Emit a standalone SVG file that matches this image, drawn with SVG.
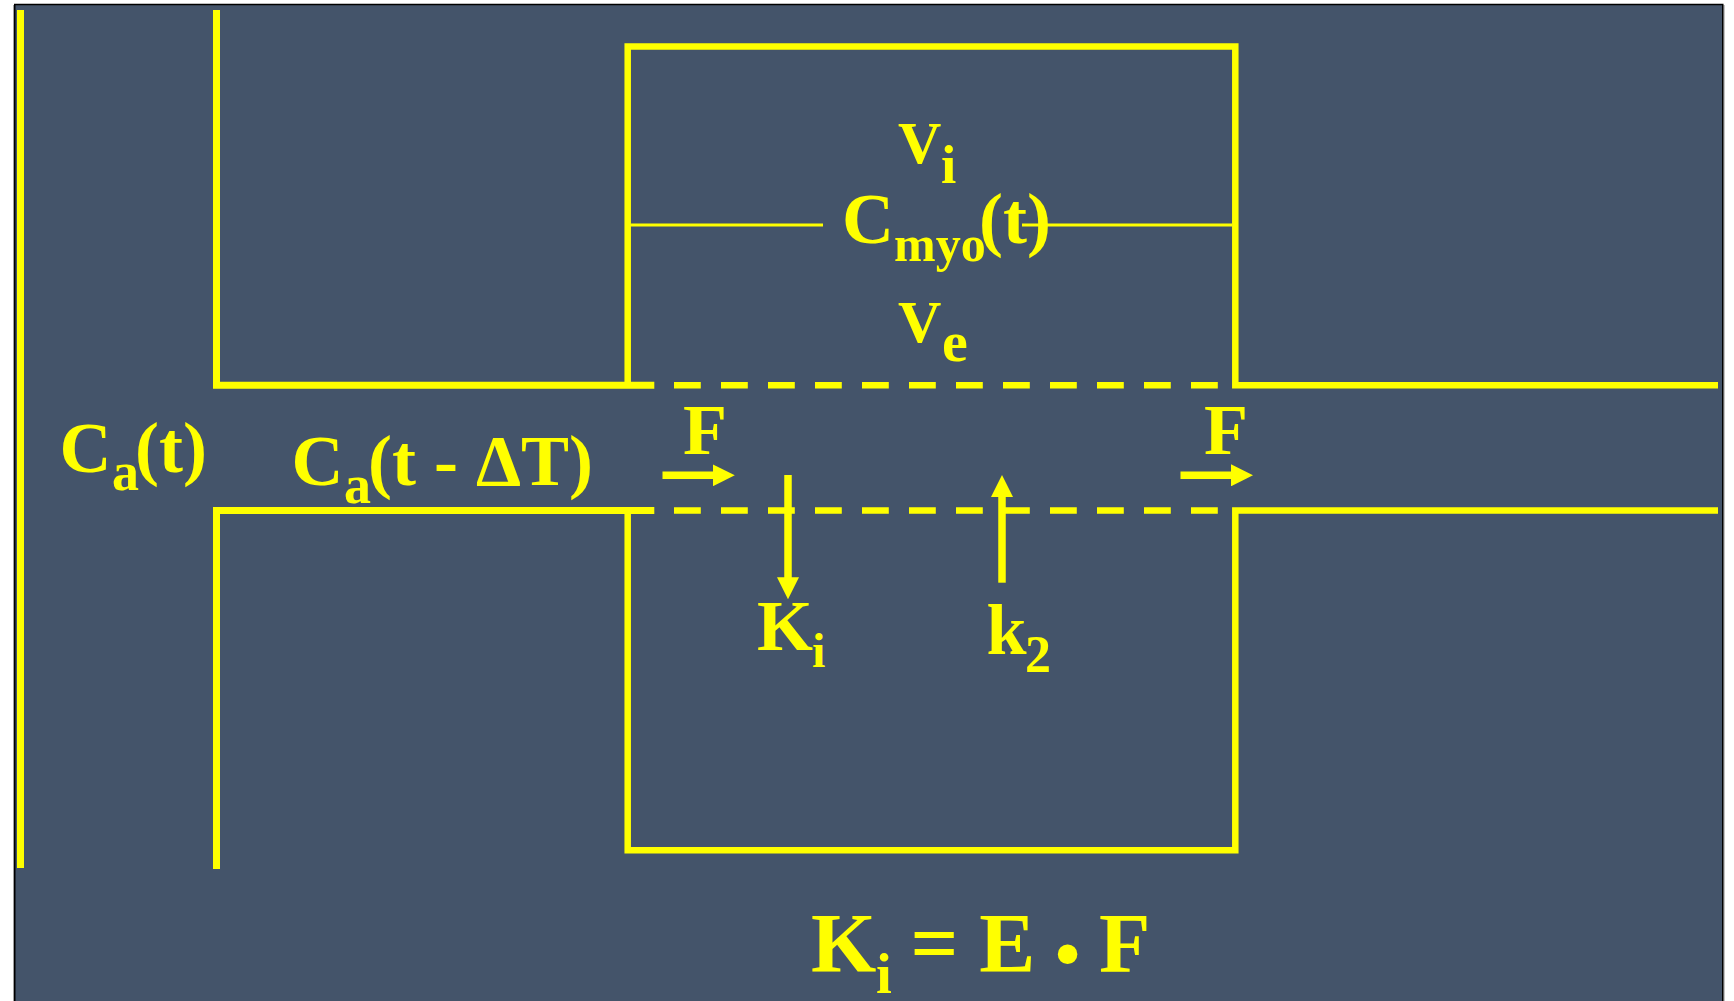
<svg xmlns="http://www.w3.org/2000/svg" width="1734" height="1001" viewBox="0 0 1734 1001">
<defs>
<style>
.wall{fill:none;stroke:#FFFF00;stroke-width:6.5;stroke-linecap:butt;stroke-linejoin:miter}
.dash{fill:none;stroke:#FFFF00;stroke-width:6.5;stroke-dasharray:26.8 20.2}
.thin{fill:none;stroke:#FFFF00;stroke-width:3}
.arr{fill:none;stroke:#FFFF00;stroke-width:7.5}
.t{font-family:"Liberation Serif","Times New Roman",serif;font-weight:bold;fill:#FFFF00}
</style>
<marker id="ah" viewBox="0 0 22 22" markerUnits="userSpaceOnUse" markerWidth="22" markerHeight="22" refX="2" refY="11" orient="auto">
<path d="M0,0 L22,11 L0,22 Z" fill="#FFFF00"/>
</marker>
</defs>
<rect x="0" y="0" width="1734" height="1001" fill="#FFFFFF"/>
<line x1="13.5" y1="5" x2="13.5" y2="1001" stroke="#A0A0A0" stroke-width="1"/>
<line x1="1724" y1="5" x2="1724" y2="1001" stroke="#B0B0B0" stroke-width="1.5"/>
<rect x="14.75" y="4.5" width="1708" height="1010" fill="#44546A" stroke="#000000" stroke-width="1.5"/>

<g id="walls">
<line class="wall" x1="20.5" y1="10" x2="20.5" y2="868" style="stroke-width:7"/>
<path class="wall" d="M216.5,10 V385.3 H654.3" style="stroke-width:7"/>
<path class="wall" d="M216.5,869 V510.5 H654.3" style="stroke-width:7"/>
</g>

<g id="tissue-box">
<path class="wall" d="M627.7,385.3 V46.5 H1235.3 V385.3 H1718"/>
<path class="wall" d="M627.7,510.5 V850.3 H1235.3 V510.5 H1718"/>
<line class="dash" x1="674" y1="385.3" x2="1218" y2="385.3"/>
<line class="dash" x1="674" y1="510.5" x2="1218" y2="510.5"/>
<line class="thin" x1="630" y1="225" x2="823" y2="225"/>
<line class="thin" x1="1022" y1="225" x2="1232" y2="225"/>
</g>

<g id="connectors">
<line class="arr" x1="662.5" y1="475.3" x2="714.8" y2="475.3" marker-end="url(#ah)"/>
<line class="arr" x1="1180.5" y1="475.3" x2="1233" y2="475.3" marker-end="url(#ah)"/>
<line class="arr" x1="788" y1="475" x2="788" y2="579.3" marker-end="url(#ah)"/>
<line class="arr" x1="1002" y1="582.7" x2="1002" y2="495" marker-end="url(#ah)"/>
</g>

<g id="label-vi">
<text class="t" x="898" y="163" font-size="60">V<tspan x="941" y="183" font-size="55">i</tspan></text>
</g>
<g id="label-cmyo">
<text class="t" x="842" y="243" font-size="72">C<tspan x="894" y="261" font-size="50">myo</tspan><tspan x="979" y="243">(t)</tspan></text>
</g>
<g id="label-ve">
<text class="t" x="898" y="341.7" font-size="60">V<tspan x="942" y="361" font-size="58">e</tspan></text>
</g>
<g id="label-cat">
<text class="t" x="59.6" y="471.5" font-size="72">C<tspan x="112" y="490" font-size="54">a</tspan><tspan x="135" y="471.5">(t)</tspan></text>
</g>
<g id="label-catdt">
<text class="t" x="291.5" y="485" font-size="72">C<tspan x="344" y="503" font-size="54">a</tspan><tspan x="368" y="485">(t - ΔT)</tspan></text>
</g>
<g id="label-f1">
<text class="t" x="683" y="454" font-size="72">F</text>
</g>
<g id="label-f2">
<text class="t" x="1204" y="454" font-size="72">F</text>
</g>
<g id="label-ki">
<text class="t" x="757" y="650" font-size="72">K<tspan x="812" y="667" font-size="48">i</tspan></text>
</g>
<g id="label-k2">
<text class="t" x="986.5" y="654" font-size="72">k<tspan x="1025" y="672" font-size="52">2</tspan></text>
</g>
<g id="formula">
<text class="t" x="811" y="971.7" font-size="84">K<tspan x="876" y="993" font-size="57">i</tspan><tspan x="910.5" y="971.7">= E</tspan><tspan x="1055" y="978" font-size="72">•</tspan><tspan x="1099" y="971.7">F</tspan></text>
</g>
</svg>
